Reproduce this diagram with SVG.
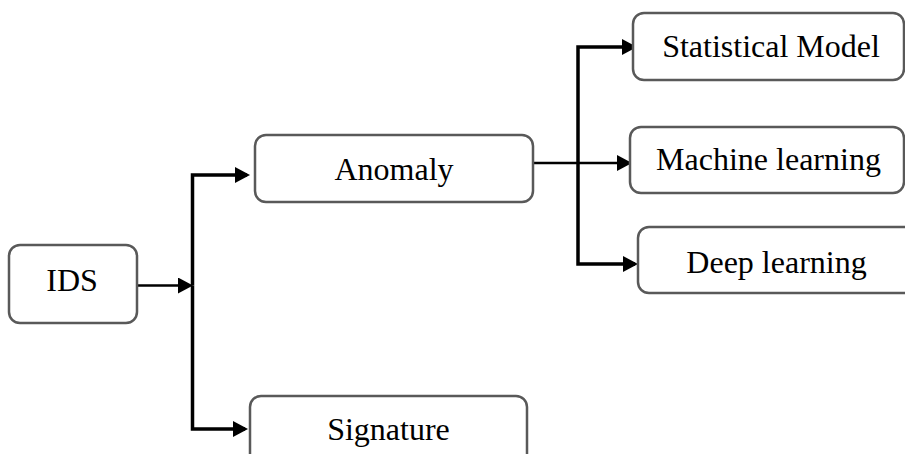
<svg xmlns="http://www.w3.org/2000/svg" width="905" height="454" viewBox="0 0 905 454">
  <style>
    .box { fill: #ffffff; stroke: #595959; stroke-width: 2.5; }
    .label { font-family: "Liberation Serif", "Times New Roman", serif; font-size: 32px; fill: #000000; text-anchor: middle; }
    .link { fill: none; stroke: #000000; stroke-width: 2.5; }
    .bus { fill: none; stroke: #000000; stroke-width: 3.5; stroke-linejoin: miter; }
  </style>
  <defs>
    <marker id="arrow" markerUnits="userSpaceOnUse" markerWidth="15" markerHeight="16" refX="12" refY="8" orient="auto">
      <path d="M0,0 L15,8 L0,16 Z" fill="#000000"/>
    </marker>
  </defs>

  <rect width="905" height="454" fill="#ffffff"/>

  <!-- connectors -->
  <g id="connectors">
    <path class="link" d="M137,285.5 H190" marker-end="url(#arrow)"/>
    <path class="bus" d="M192.5,285.5 V175 H247" marker-end="url(#arrow)"/>
    <path class="bus" d="M192.5,285.5 V429 H245" marker-end="url(#arrow)"/>
    <path class="link" d="M533,163 H629" marker-end="url(#arrow)"/>
    <path class="bus" d="M578,163 V47 H634" marker-end="url(#arrow)"/>
    <path class="bus" d="M578,163 V264 H635" marker-end="url(#arrow)"/>
  </g>

  <!-- nodes -->
  <g id="ids">
    <rect class="box" x="9" y="245" width="128" height="78" rx="11"/>
    <text class="label" x="72" y="291">IDS</text>
  </g>
  <g id="anomaly">
    <rect class="box" x="255" y="135" width="278" height="67" rx="11"/>
    <text class="label" x="394" y="180">Anomaly</text>
  </g>
  <g id="signature">
    <rect class="box" x="250" y="396" width="277" height="80" rx="11"/>
    <text class="label" x="388.5" y="440">Signature</text>
  </g>
  <g id="statistical-model">
    <rect class="box" x="633" y="13" width="271" height="67" rx="11"/>
    <text class="label" x="771" y="57">Statistical Model</text>
  </g>
  <g id="machine-learning">
    <rect class="box" x="630" y="127" width="274" height="66" rx="11"/>
    <text class="label" x="768.5" y="170">Machine learning</text>
  </g>
  <g id="deep-learning">
    <rect class="box" x="638" y="227" width="277" height="66" rx="11"/>
    <text class="label" x="776.5" y="273">Deep learning</text>
  </g>
</svg>
